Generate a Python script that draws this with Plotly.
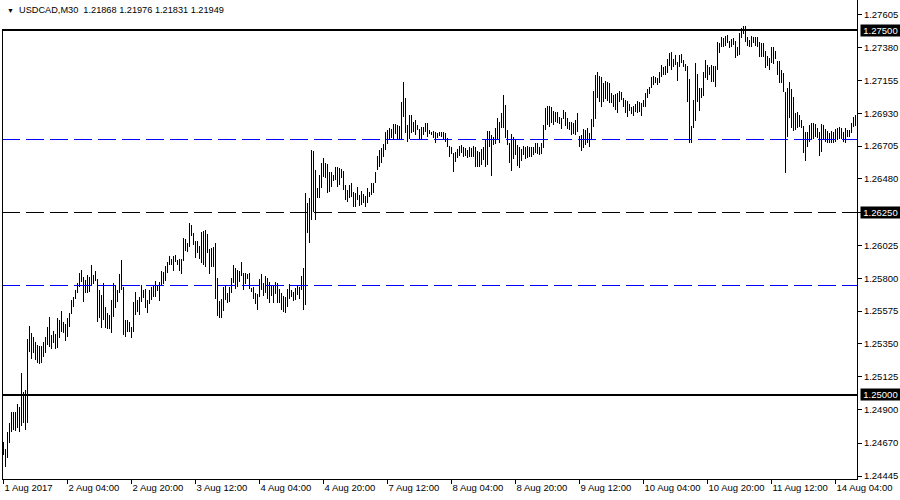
import plotly.graph_objects as go

# ---------------- data ----------------
symbol_header = "USDCAD,M30"
header_values = ["1.21868", "1.21976", "1.21831", "1.21949"]

# 30-minute bars, 1 Aug 12:00 - 4 Aug 23:30
high_aug01_04 = [
    1.24677, 1.24629, 1.24746, 1.24807, 1.24883, 1.24883, 1.24883, 1.24938, 1.24917, 1.25150, 1.25020, 1.25034, 1.25383, 1.25472, 1.25424, 1.25397,
    1.25362, 1.25342, 1.25335, 1.25335, 1.25362, 1.25397, 1.25465, 1.25534, 1.25410, 1.25438, 1.25417, 1.25527, 1.25513, 1.25575, 1.25499, 1.25486,
    1.25527, 1.25561, 1.25650, 1.25671, 1.25719, 1.25766, 1.25835, 1.25856, 1.25808, 1.25787, 1.25821, 1.25808, 1.25890, 1.25821, 1.25849, 1.25794,
    1.25719, 1.25684, 1.25766, 1.25602, 1.25561, 1.25547, 1.25650, 1.25766, 1.25753, 1.25719, 1.25828, 1.25924, 1.25739, 1.25513, 1.25513, 1.25499,
    1.25465, 1.25636, 1.25705, 1.25650, 1.25671, 1.25753, 1.25719, 1.25725, 1.25650, 1.25719, 1.25739, 1.25746, 1.25780, 1.25746, 1.25773, 1.25849,
    1.25842, 1.25883, 1.25910, 1.25951, 1.25931, 1.25951, 1.25958, 1.25924, 1.25931, 1.25931, 1.26075, 1.26068, 1.26040, 1.26177, 1.26164, 1.26109,
    1.26054, 1.26054, 1.26020, 1.26116, 1.26123, 1.26130, 1.26102, 1.25999, 1.26006, 1.26013, 1.26040, 1.25801, 1.25643, 1.25657, 1.25739, 1.25753,
    1.25698, 1.25739, 1.25801, 1.25890, 1.25869, 1.25856, 1.25849, 1.25910, 1.25835, 1.25835, 1.25828, 1.25835, 1.25732, 1.25739, 1.25698, 1.25691,
    1.25794, 1.25828, 1.25766, 1.25814, 1.25801, 1.25773, 1.25746, 1.25753, 1.25773, 1.25766, 1.25725, 1.25698, 1.25677, 1.25671, 1.25725, 1.25760,
    1.25719, 1.25705, 1.25732, 1.25753, 1.25739, 1.25814, 1.25869, 1.26383, 1.26314, 1.26349, 1.26678, 1.26671, 1.26541, 1.26417, 1.26506, 1.26588,
    1.26623, 1.26588, 1.26582, 1.26527, 1.26527, 1.26506, 1.26561, 1.26561,
]
low_aug01_04 = [
    1.24588, 1.24506, 1.24568, 1.24670, 1.24746, 1.24760, 1.24753, 1.24773, 1.24746, 1.24787, 1.24807, 1.24760, 1.24807, 1.25294, 1.25246, 1.25287,
    1.25239, 1.25218, 1.25212, 1.25218, 1.25260, 1.25287, 1.25342, 1.25328, 1.25314, 1.25355, 1.25314, 1.25321, 1.25390, 1.25431, 1.25424, 1.25369,
    1.25397, 1.25465, 1.25554, 1.25602, 1.25657, 1.25698, 1.25739, 1.25773, 1.25636, 1.25698, 1.25698, 1.25705, 1.25746, 1.25760, 1.25780, 1.25499,
    1.25527, 1.25458, 1.25513, 1.25458, 1.25451, 1.25451, 1.25424, 1.25534, 1.25595, 1.25636, 1.25698, 1.25719, 1.25410, 1.25397, 1.25431, 1.25431,
    1.25390, 1.25431, 1.25547, 1.25568, 1.25547, 1.25636, 1.25664, 1.25595, 1.25561, 1.25623, 1.25650, 1.25671, 1.25671, 1.25712, 1.25643, 1.25753,
    1.25760, 1.25780, 1.25835, 1.25890, 1.25890, 1.25849, 1.25910, 1.25890, 1.25849, 1.25828, 1.25917, 1.25986, 1.25979, 1.26013, 1.26088, 1.26027,
    1.25938, 1.25972, 1.25931, 1.25903, 1.25890, 1.25876, 1.25972, 1.25828, 1.25876, 1.25876, 1.25657, 1.25540, 1.25527, 1.25527, 1.25575, 1.25650,
    1.25629, 1.25636, 1.25698, 1.25766, 1.25725, 1.25739, 1.25773, 1.25814, 1.25719, 1.25760, 1.25794, 1.25725, 1.25705, 1.25657, 1.25623, 1.25582,
    1.25671, 1.25719, 1.25677, 1.25698, 1.25657, 1.25629, 1.25677, 1.25629, 1.25691, 1.25629, 1.25629, 1.25582, 1.25568, 1.25561, 1.25602, 1.25657,
    1.25671, 1.25643, 1.25650, 1.25684, 1.25657, 1.25719, 1.25582, 1.25616, 1.26109, 1.26040, 1.26198, 1.26253, 1.26198, 1.26349, 1.26349, 1.26417,
    1.26493, 1.26486, 1.26383, 1.26390, 1.26424, 1.26465, 1.26472, 1.26424,
]

# 30-minute bars, 7 Aug 00:00 - 11 Aug 23:30
high_aug07_11 = [
    1.26554, 1.26547, 1.26534, 1.26438, 1.26404, 1.26438, 1.26451, 1.26390, 1.26383, 1.26424, 1.26369, 1.26397, 1.26376, 1.26362, 1.26417, 1.26390,
    1.26451, 1.26451, 1.26527, 1.26636, 1.26678, 1.26691, 1.26719, 1.26801, 1.26815, 1.26828, 1.26821, 1.26856, 1.26856, 1.26849, 1.26842, 1.27006,
    1.27143, 1.27034, 1.26849, 1.26917, 1.26917, 1.26869, 1.26883, 1.26849, 1.26821, 1.26835, 1.26835, 1.26862, 1.26862, 1.26815, 1.26801, 1.26808,
    1.26801, 1.26794, 1.26801, 1.26801, 1.26801, 1.26794, 1.26760, 1.26705, 1.26698, 1.26657, 1.26664, 1.26684, 1.26705, 1.26712, 1.26698, 1.26691,
    1.26678, 1.26698, 1.26691, 1.26705, 1.26698, 1.26671, 1.26664, 1.26684, 1.26698, 1.26753, 1.26808, 1.26808, 1.26780, 1.26767, 1.26828, 1.26897,
    1.26869, 1.26931, 1.27054, 1.26986, 1.26815, 1.26725, 1.26787, 1.26767, 1.26753, 1.26712, 1.26698, 1.26684, 1.26705, 1.26698, 1.26705, 1.26698,
    1.26698, 1.26698, 1.26725, 1.26725, 1.26698, 1.26725, 1.26849, 1.26965, 1.26979, 1.26979, 1.26972, 1.26945, 1.26938, 1.26938, 1.26904, 1.26897,
    1.26952, 1.26938, 1.26897, 1.26869, 1.26869, 1.26862, 1.26883, 1.26931, 1.26773, 1.26780, 1.26821, 1.26815, 1.26828, 1.26794, 1.26890, 1.27082,
    1.27191, 1.27212, 1.27184, 1.27178, 1.27136, 1.27150, 1.27143, 1.27136, 1.27068, 1.27054, 1.27061, 1.27068, 1.27082, 1.27075, 1.27034, 1.27020,
    1.27013, 1.26993, 1.26972, 1.26979, 1.26993, 1.27013, 1.27006, 1.26999, 1.27020, 1.27068, 1.27095, 1.27109, 1.27178, 1.27184, 1.27178, 1.27171,
    1.27212, 1.27260, 1.27246, 1.27253, 1.27301, 1.27342, 1.27349, 1.27301, 1.27328, 1.27280, 1.27328, 1.27335, 1.27294, 1.27267, 1.27253, 1.27164,
    1.26842, 1.27020, 1.27273, 1.27198, 1.27102, 1.27102, 1.27212, 1.27294, 1.27260, 1.27246, 1.27260, 1.27253, 1.27253, 1.27417, 1.27410, 1.27452,
    1.27445, 1.27458, 1.27465, 1.27424, 1.27438, 1.27445, 1.27424, 1.27383, 1.27479, 1.27513, 1.27527, 1.27527, 1.27452, 1.27431, 1.27458, 1.27452,
    1.27452, 1.27452, 1.27417, 1.27410, 1.27410, 1.27356, 1.27321, 1.27308, 1.27383, 1.27383, 1.27356, 1.27287, 1.27287, 1.27226, 1.27205, 1.27075,
    1.27102, 1.27143, 1.27095, 1.27041, 1.26931, 1.26938, 1.26917, 1.26883, 1.26842, 1.26801, 1.26801, 1.26849, 1.26862, 1.26862, 1.26856, 1.26828,
]
low_aug07_11 = [
    1.26438, 1.26486, 1.26404, 1.26335, 1.26321, 1.26349, 1.26356, 1.26287, 1.26287, 1.26335, 1.26294, 1.26301, 1.26314, 1.26287, 1.26314, 1.26356,
    1.26369, 1.26383, 1.26451, 1.26541, 1.26561, 1.26588, 1.26630, 1.26678, 1.26719, 1.26746, 1.26760, 1.26746, 1.26787, 1.26746, 1.26746, 1.26746,
    1.26904, 1.26794, 1.26732, 1.26753, 1.26794, 1.26801, 1.26780, 1.26815, 1.26746, 1.26753, 1.26780, 1.26801, 1.26767, 1.26787, 1.26780, 1.26760,
    1.26725, 1.26760, 1.26773, 1.26767, 1.26753, 1.26732, 1.26698, 1.26630, 1.26650, 1.26527, 1.26595, 1.26623, 1.26636, 1.26657, 1.26630, 1.26636,
    1.26623, 1.26630, 1.26630, 1.26630, 1.26561, 1.26561, 1.26561, 1.26575, 1.26609, 1.26561, 1.26575, 1.26698, 1.26499, 1.26712, 1.26719, 1.26753,
    1.26725, 1.26828, 1.26828, 1.26760, 1.26712, 1.26588, 1.26534, 1.26616, 1.26643, 1.26568, 1.26554, 1.26602, 1.26643, 1.26616, 1.26623, 1.26630,
    1.26630, 1.26643, 1.26657, 1.26650, 1.26643, 1.26650, 1.26691, 1.26815, 1.26849, 1.26835, 1.26862, 1.26849, 1.26869, 1.26862, 1.26856, 1.26821,
    1.26890, 1.26842, 1.26821, 1.26815, 1.26780, 1.26787, 1.26780, 1.26801, 1.26698, 1.26671, 1.26691, 1.26712, 1.26725, 1.26698, 1.26753, 1.26835,
    1.26890, 1.27034, 1.27006, 1.26972, 1.27006, 1.27027, 1.27013, 1.26999, 1.26999, 1.26972, 1.26952, 1.26931, 1.27006, 1.27020, 1.26972, 1.26931,
    1.26904, 1.26945, 1.26924, 1.26910, 1.26938, 1.26931, 1.26938, 1.26910, 1.26972, 1.26972, 1.27034, 1.27061, 1.27102, 1.27123, 1.27136, 1.27123,
    1.27136, 1.27178, 1.27191, 1.27191, 1.27205, 1.27253, 1.27226, 1.27246, 1.27260, 1.27150, 1.27246, 1.27273, 1.27246, 1.27219, 1.27006, 1.26725,
    1.26725, 1.26828, 1.26876, 1.27006, 1.26945, 1.27034, 1.27047, 1.27171, 1.27157, 1.27191, 1.27143, 1.27143, 1.27109, 1.27226, 1.27342, 1.27383,
    1.27383, 1.27390, 1.27410, 1.27376, 1.27383, 1.27397, 1.27308, 1.27321, 1.27328, 1.27445, 1.27472, 1.27417, 1.27390, 1.27383, 1.27383, 1.27410,
    1.27390, 1.27383, 1.27315, 1.27315, 1.27315, 1.27239, 1.27253, 1.27226, 1.27273, 1.27267, 1.27301, 1.27191, 1.27136, 1.27136, 1.27075, 1.26520,
    1.26767, 1.26897, 1.26828, 1.26808, 1.26815, 1.26828, 1.26835, 1.26828, 1.26657, 1.26602, 1.26698, 1.26732, 1.26753, 1.26753, 1.26767, 1.26760,
]

# 30-minute bars, 14 Aug 00:00 - 09:00
high_aug14 = [
    1.26801, 1.26856, 1.26849, 1.26821, 1.26808, 1.26794, 1.26808, 1.26801, 1.26821, 1.26828,
    1.26835, 1.26828, 1.26801, 1.26828, 1.26815, 1.26815, 1.26862, 1.26904, 1.26917,
]
low_aug14 = [
    1.26636, 1.26664, 1.26753, 1.26732, 1.26725, 1.26725, 1.26725, 1.26725, 1.26732, 1.26746,
    1.26753, 1.26753, 1.26732, 1.26725, 1.26767, 1.26767, 1.26794, 1.26835, 1.26842,
]

time_labels = [
    "1 Aug 2017", "2 Aug 04:00", "2 Aug 20:00", "3 Aug 12:00", "4 Aug 04:00",
    "4 Aug 20:00", "7 Aug 12:00", "8 Aug 04:00", "8 Aug 20:00", "9 Aug 12:00",
    "10 Aug 04:00", "10 Aug 20:00", "11 Aug 12:00", "14 Aug 04:00",
]
bars_per_label = 32  # one time label every 16 hours of 30-minute bars

price_ticks = [1.24445, 1.24670, 1.24900, 1.25125, 1.25350, 1.25575, 1.25800, 1.26025,
               1.26250, 1.26480, 1.26705, 1.26930, 1.27155, 1.27380, 1.27605]

solid_levels = [1.27500, 1.25000]
dashed_black_levels = [1.26250]
dashed_blue_levels = [1.26750, 1.25750]
marked_levels = [1.27500, 1.26250, 1.25000]

# visible price window of the chart
price_top = 1.277057
price_bottom = 1.2442455

# ---------------- figure ----------------
highs = high_aug01_04 + high_aug07_11 + high_aug14
lows = low_aug01_04 + low_aug07_11 + low_aug14
n_bars = len(highs)
bar_index = list(range(n_bars))

FONT = "Liberation Sans"

fig = go.Figure()
fig.add_trace(go.Bar(
    x=bar_index,
    base=lows,
    y=[h - l for h, l in zip(highs, lows)],
    width=0.5,
    marker=dict(color="black", line=dict(width=0)),
    name=symbol_header,
    hoverinfo="skip",
))

shapes = []
for lv in solid_levels:
    shapes.append(dict(type="line", xref="paper", yref="y", x0=0, x1=1, y0=lv, y1=lv,
                       line=dict(color="black", width=2)))
for lv in dashed_black_levels:
    shapes.append(dict(type="line", xref="paper", yref="y", x0=0, x1=1, y0=lv, y1=lv,
                       line=dict(color="black", width=1, dash="18px,6px")))
for lv in dashed_blue_levels:
    shapes.append(dict(type="line", xref="paper", yref="y", x0=0, x1=1, y0=lv, y1=lv,
                       line=dict(color="#0000ff", width=1, dash="18px,6px")))
# left frame edge (drawn below the top level line only)
shapes.append(dict(type="line", xref="x", yref="y", x0=-0.5, x1=-0.5,
                   y0=price_bottom, y1=solid_levels[0], line=dict(color="black", width=1)))

annotations = []
for lv in marked_levels:
    annotations.append(dict(xref="paper", yref="y", x=1, y=lv, xanchor="left", yanchor="middle",
                            xshift=3, text=f"{lv:.5f}", showarrow=False, bgcolor="black",
                            font=dict(color="white", size=9.5, family=FONT),
                            width=39, height=11, borderpad=0))
nb = "\u00a0"
header_text = ("<span style='font-size:7px'>▼</span>" + nb + nb + symbol_header + nb + nb
               + nb.join(header_values))
annotations.append(dict(xref="paper", yref="paper", x=0, y=1, xanchor="left", yanchor="top",
                        xshift=3, yshift=-3, text=header_text, showarrow=False,
                        font=dict(size=9.2, color="black", family=FONT)))

fig.update_layout(
    width=900, height=500,
    margin=dict(l=2, r=43, t=0, b=21, pad=0, autoexpand=False),
    paper_bgcolor="white", plot_bgcolor="white",
    showlegend=False, bargap=0,
    font=dict(family=FONT, size=9.5, color="black"),
    shapes=shapes, annotations=annotations,
)
fig.update_xaxes(
    range=[-0.75, n_bars - 0.25],
    tickmode="array",
    tickvals=[k * bars_per_label for k in range(len(time_labels))],
    ticktext=time_labels,
    tickangle=0,
    ticks="outside", ticklen=4, tickcolor="black", tickwidth=1,
    showline=True, linecolor="black", linewidth=1,
    showgrid=False, zeroline=False,
    ticklabelposition="outside right",
    tickfont=dict(size=9.5, family=FONT, color="black"),
    fixedrange=True, automargin=False,
)
fig.update_yaxes(
    side="right",
    range=[price_bottom, price_top],
    tickmode="array",
    tickvals=price_ticks,
    ticktext=[f"{v:.5f}" for v in price_ticks],
    ticks="outside", ticklen=4, tickcolor="black", tickwidth=1,
    showline=True, linecolor="black", linewidth=1,
    showgrid=False, zeroline=False,
    tickfont=dict(size=9.5, family=FONT, color="black"),
    fixedrange=True, automargin=False,
)

fig.write_html("out.html", config={"displayModeBar": False},
               post_script="document.body.style.margin='0';document.body.style.overflow='hidden';")
